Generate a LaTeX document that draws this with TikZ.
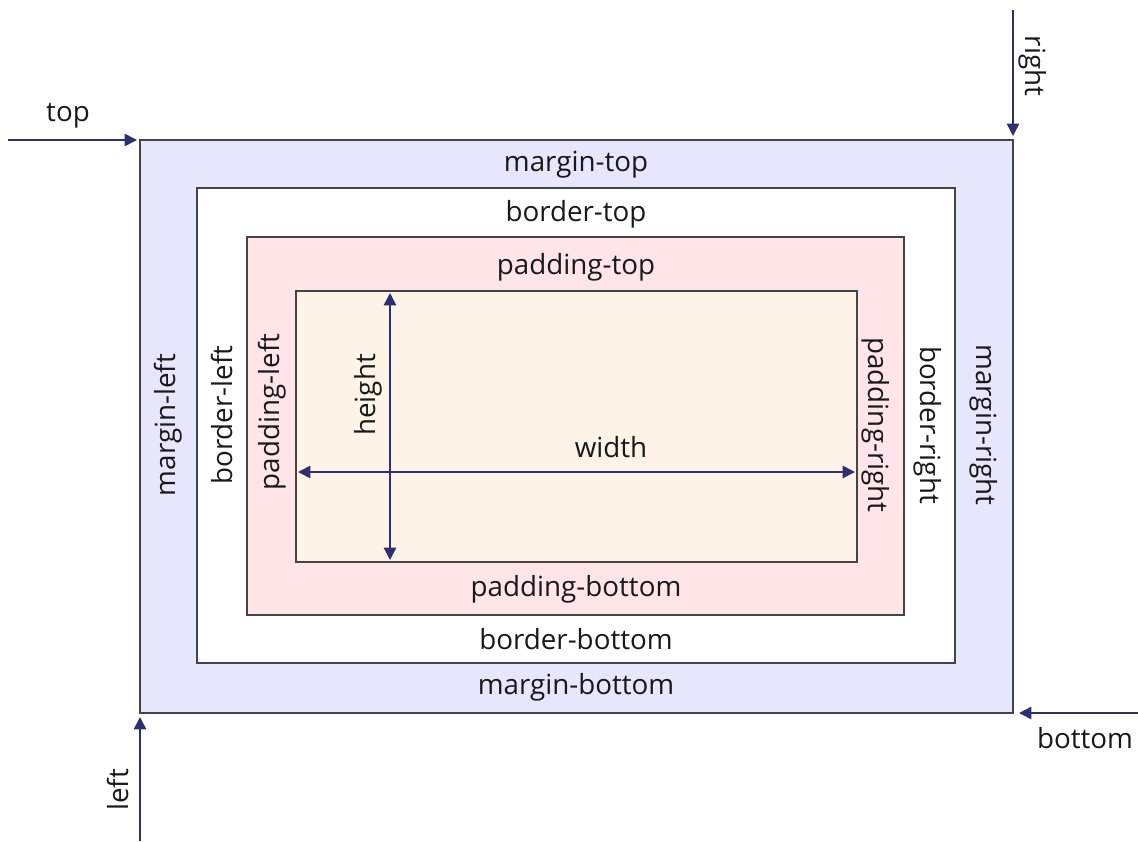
\documentclass[tikz,border=0pt]{standalone}
\usepackage{fontspec}
\setmainfont{Open Sans}
\usetikzlibrary{arrows.meta}
\definecolor{marginc}{HTML}{E6E6FC}
\definecolor{paddingc}{HTML}{FFE4E8}
\definecolor{contentc}{HTML}{FDF3E6}
\definecolor{arrowc}{HTML}{2E2F6E}
\definecolor{linec}{HTML}{444444}
\begin{document}
\begin{tikzpicture}[x=0.02cm,y=-0.02cm,
  box/.style={draw=linec,line width=1pt},
  lbl/.style={font=\fontsize{15.8}{18}\selectfont,text=black!90,inner sep=0pt},
  dim/.style={draw=arrowc,line width=0.9pt,-{Triangle[length=7pt,width=7pt]}},
  dimboth/.style={draw=arrowc,line width=0.9pt,{Triangle[length=7pt,width=7pt]}-{Triangle[length=7pt,width=7pt]}}]
\useasboundingbox (0,0) rectangle (1138,841);
% the four boxes
\draw[box,fill=marginc] (140,140) rectangle (1013,713);
\draw[box,fill=white] (197,188) rectangle (955,663);
\draw[box,fill=paddingc] (247,237) rectangle (904,615);
\draw[box,fill=contentc] (296,291) rectangle (857,562);
% labels in the boxes
\node[lbl] (mtop) at (576,165) {margin-top};
\node[lbl] (btop) at (576,214) {border-top};
\node[lbl] (ptop) at (576,267) {padding-top};
\node[lbl] (pbottom) at (576,589) {padding-bottom};
\node[lbl] (bbottom) at (576,639) {border-bottom};
\node[lbl] (mbottom) at (576,687) {margin-bottom};
\node[lbl,rotate=90] (mleft) at (168,425) {margin-left};
\node[lbl,rotate=90] (bleft) at (222,415) {border-left};
\node[lbl,rotate=90] (pleft) at (272,412) {padding-left};
\node[lbl,rotate=-90] (pright) at (876,425) {padding-right};
\node[lbl,rotate=-90] (bright) at (928,425) {border-right};
\node[lbl,rotate=-90] (mright) at (984,425) {margin-right};
% width and height
\coordinate (hA) at (390,293); \coordinate (hB) at (390,560);
\coordinate (wA) at (298,472); \coordinate (wB) at (855,472);
\draw[dimboth] (hA) -- (hB);
\draw[dimboth] (wA) -- (wB);
\node[lbl,rotate=90] (height) at (368,395) {height};
\node[lbl] (width) at (611,447) {width};
% offsets outside
\coordinate (topA) at (8,140); \coordinate (topB) at (137,140);
\coordinate (rightA) at (1013,10); \coordinate (rightB) at (1013,136);
\coordinate (bottomA) at (1138,713); \coordinate (bottomB) at (1019,713);
\coordinate (leftA) at (140,841); \coordinate (leftB) at (140,717);
\draw[dim] (topA) -- (topB);
\draw[dim] (rightA) -- (rightB);
\draw[dim] (bottomA) -- (bottomB);
\draw[dim] (leftA) -- (leftB);
\node[lbl] (top) at (68,116) {top};
\node[lbl,rotate=-90] (right) at (1033,66) {right};
\node[lbl] (bottom) at (1085,738) {bottom};
\node[lbl,rotate=90] (left) at (118,790) {left};
\end{tikzpicture}
\end{document}
